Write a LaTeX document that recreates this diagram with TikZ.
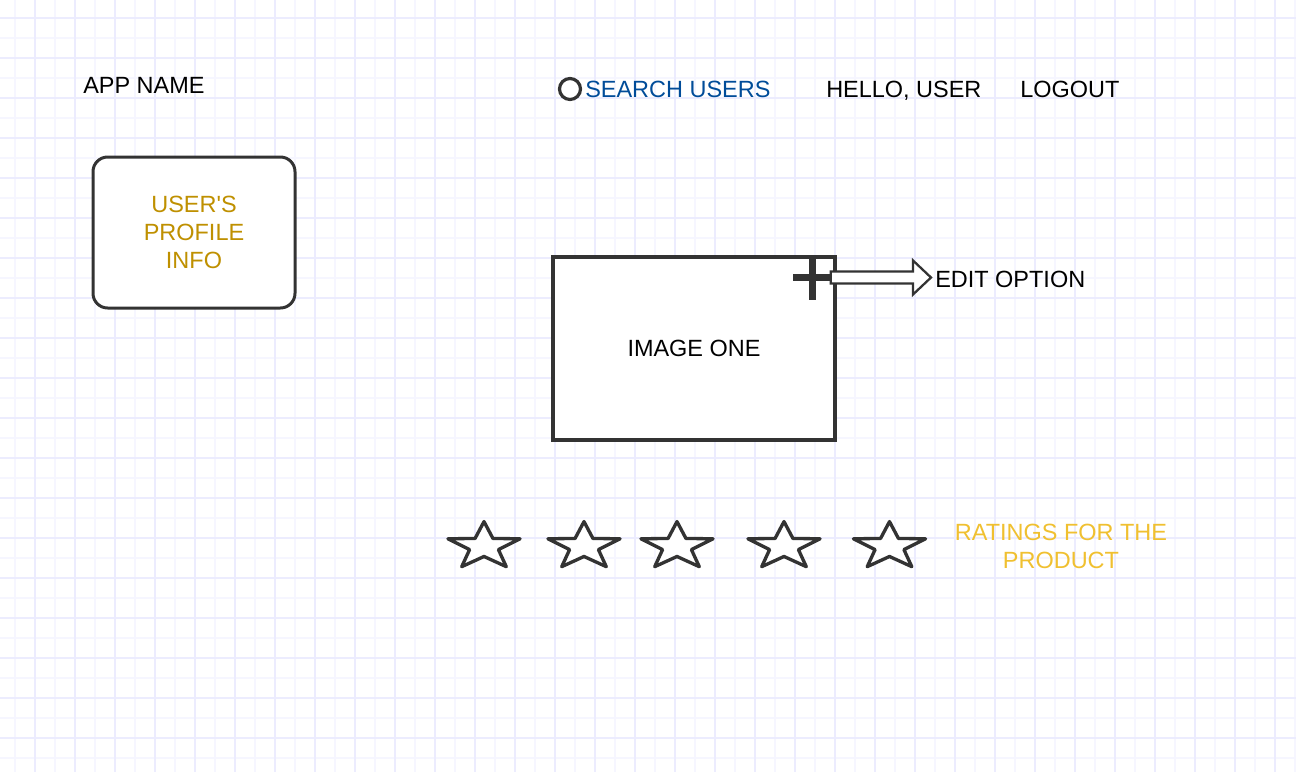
\documentclass[tikz,border=0pt]{standalone}
\usepackage{fontspec}
\setmainfont{Liberation Sans}[Ligatures=TeXOff]
\usetikzlibrary{shapes.geometric,calc}
\definecolor{gridlight}{RGB}{246,246,255}
\definecolor{griddark}{RGB}{236,236,254}
\definecolor{strokegray}{RGB}{51,51,51}
\definecolor{profilegold}{RGB}{191,144,0}
\definecolor{ratinggold}{RGB}{240,192,48}
\definecolor{searchblue}{RGB}{0,76,153}
\begin{document}
\begin{tikzpicture}[x=0.75pt,y=-0.75pt,
  every node/.style={font=\fontsize{17.6}{21}\selectfont},
  textlabel/.style={inner sep=0pt, anchor=base west},
  searchicon/.style={circle, draw=strokegray, fill=white, line width=2.4pt, minimum size=15.75pt, inner sep=0pt},
  profilebox/.style={rectangle, rounded corners=11pt, draw=strokegray, fill=white, line width=2.25pt,
    minimum width=151.5pt, minimum height=113.25pt, text=profilegold, align=center, inner sep=0pt},
  imagebox/.style={rectangle, draw=strokegray, fill=white, line width=2.3pt,
    minimum width=211.5pt, minimum height=137.25pt, inner sep=0pt},
  plusmark/.style={rectangle, minimum width=27.75pt, minimum height=33pt, inner sep=0pt},
  plusbar/.style={strokegray, line width=5.25pt},
  hollowarrow/.style={draw=strokegray, fill=white, line width=1.7pt, line join=miter},
  ratingstar/.style={star, star points=5, star point ratio=2.5, minimum size=37.4pt, inner sep=0pt,
    draw=strokegray, fill=white, line width=2.5pt, line join=round, xscale=1.52},
  ratingtext/.style={text=ratinggold, align=center, inner sep=0pt}
]
\useasboundingbox (0,0) rectangle (1296,772);
\fill[white] (0,0) rectangle (1296,772);
% grid
\foreach \gx in {15,55,...,1295} \draw[gridlight, line width=0.9pt] (\gx,0) -- (\gx,772);
\foreach \gy in {38,78,...,758} \draw[gridlight, line width=0.9pt] (0,\gy) -- (1296,\gy);
\foreach \gx in {35,75,...,1275} \draw[griddark, line width=0.9pt] (\gx,0) -- (\gx,772);
\foreach \gy in {18,58,...,738} \draw[griddark, line width=0.9pt] (0,\gy) -- (1296,\gy);

% header
\node[textlabel] (appname) at (83,93.5) {APP NAME};
\node[searchicon] (searchicon) at (570,89) {};
\node[textlabel, text=searchblue] (search) at (585,97.7) {SEARCH USERS};
\node[textlabel] (hello) at (826,97.5) {HELLO, USER};
\node[textlabel] (logout) at (1020,97.5) {LOGOUT};

% profile
\node[profilebox] (profile) at (194,232.5) {USER'S\\PROFILE\\INFO};

% image
\node[imagebox] (image) at (694,348.5) {IMAGE ONE};
\node[plusmark] (plus) at (812,277.5) {};
\draw[plusbar] (plus.north) -- (plus.south) (plus.west) -- (plus.east);
\node[textlabel] (edit) at (935,287) {EDIT OPTION};
\coordinate (arrowtip) at ($(edit.west |- plus.east)+(-4,0)$);
\draw[hollowarrow] ($(plus.east)+(0,-6)$) -- ($(arrowtip)+(-18,-6)$) -- ($(arrowtip)+(-18,-17)$)
  -- (arrowtip) -- ($(arrowtip)+(-18,17)$) -- ($(arrowtip)+(-18,6)$) -- ($(plus.east)+(0,6)$) -- cycle;

% ratings
\node[ratingstar] (star1) at (484,546.5) {};
\node[ratingstar] (star2) at (584,546.5) {};
\node[ratingstar] (star3) at (677,546.5) {};
\node[ratingstar] (star4) at (784,546.5) {};
\node[ratingstar] (star5) at (889.5,546.5) {};
\node[ratingtext] (ratings) at (1061,546.7) {RATINGS FOR THE\\PRODUCT};
\end{tikzpicture}
\end{document}
